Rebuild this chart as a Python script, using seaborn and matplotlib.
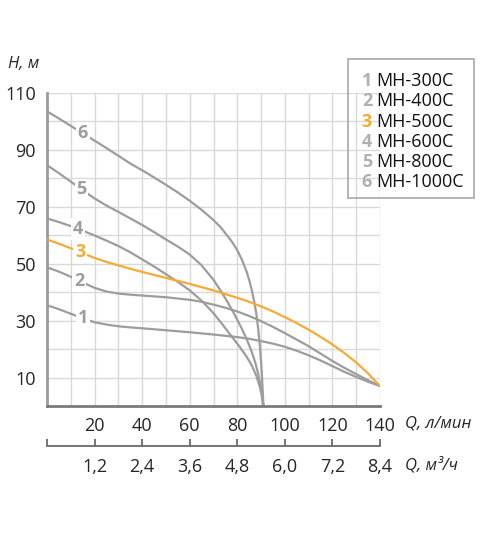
import numpy as np
import pandas as pd
import seaborn as sns
import matplotlib.pyplot as plt
from matplotlib.patches import Rectangle

# Характеристики насосов: расход Q (л/мин) и напор H (м)
q1 = [0, 5, 10, 15, 20, 25, 30, 35, 40, 50, 60, 70, 80, 85, 90, 95, 100, 105, 110, 115, 120, 125, 130, 135, 140]
h1 = [35.4, 34.0, 32.4, 30.8, 29.4, 28.6, 28.0, 27.6, 27.3, 26.6, 25.9, 25.1, 24.2, 23.6, 22.8, 21.9, 20.8,
      19.4, 17.8, 16.0, 14.0, 12.0, 10.2, 8.5, 7.0]

q2 = [0, 5, 10, 15, 20, 25, 30, 35, 40, 50, 60, 65, 70, 75, 80, 85, 90, 95, 100, 105, 110, 115, 120, 125, 130, 135, 140]
h2 = [48.7, 47.2, 45.4, 43.4, 41.5, 40.2, 39.5, 39.1, 38.8, 38.2, 37.3, 36.6, 35.6, 34.5, 33.2, 31.6, 29.8,
      27.8, 25.6, 23.3, 21.0, 18.4, 15.8, 13.4, 11.2, 9.0, 7.0]

q3 = [0, 5, 10, 15, 20, 25, 30, 35, 40, 50, 60, 70, 80, 85, 90, 95, 100, 105, 110, 115, 120, 125, 130, 135, 140]
h3 = [58.5, 57.0, 55.4, 53.7, 52.0, 50.6, 49.4, 48.2, 47.1, 45.0, 42.9, 40.6, 38.0, 36.6, 35.0, 33.2, 31.2,
      29.1, 26.8, 24.3, 21.6, 18.6, 15.3, 11.4, 7.0]

q4 = [0, 5, 10, 15, 20, 25, 30, 35, 40, 45, 50, 55, 60, 65, 70, 74, 78, 81, 84, 86, 88, 89.5, 90.5, 91]
h4 = [65.9, 64.6, 63.2, 61.6, 59.9, 58.1, 56.2, 54.0, 51.5, 49.0, 46.3, 43.6, 40.6, 37.0, 32.6, 28.4, 24.0,
      20.8, 17.2, 14.4, 10.6, 6.6, 3.0, 0.0]

q5 = [0, 5, 10, 15, 20, 25, 30, 35, 40, 45, 50, 55, 60, 65, 70, 73, 76, 79, 82, 84, 86, 87.5, 88.7, 89.7,
      90.4, 91]
h5 = [84.6, 81.8, 78.8, 75.8, 72.9, 70.4, 68.2, 65.9, 63.6, 61.1, 58.5, 56.0, 53.2, 49.4, 44.3, 40.5, 36.4,
      31.9, 27.0, 23.4, 19.2, 15.4, 11.6, 7.6, 4.0, 0.0]

q6 = [0, 5, 10, 15, 20, 25, 30, 35, 40, 45, 50, 55, 60, 65, 70, 73, 76, 78, 80, 82, 84, 85, 86, 87, 88,
      88.8, 89.5, 90, 90.4, 90.7, 91]
h6 = [103.5, 101.0, 98.4, 95.8, 93.2, 90.6, 87.9, 85.2, 82.8, 80.3, 77.7, 75.0, 72.1, 68.9, 65.3, 62.8, 59.6,
      57.4, 54.7, 51.3, 47.0, 44.3, 41.0, 37.2, 32.5, 27.0, 21.0, 15.5, 10.0, 5.0, 0.0]

nomera = ["1", "2", "3", "4", "5", "6"]
modeli = ["MH-300C", "MH-400C", "MH-500C", "MH-600C", "MH-800C", "MH-1000C"]

q_ticks = [20, 40, 60, 80, 100, 120, 140]
h_ticks = [10, 30, 50, 70, 90, 110]
m3_ticks = [0, 1.2, 2.4, 3.6, 4.8, 6.0, 7.2, 8.4]

gris = "#9d9d9d"
naranja = "#f5ab35"
colores = [gris, gris, naranja, gris, gris, gris]
pos_etiqueta = [15, 13.5, 14, 13, 14.5, 15]

sns.set_style("white")
plt.rcParams['font.family'] = ['Open Sans', 'DejaVu Sans']

fig = plt.figure(figsize=(5, 5.38), dpi=100)
ax = fig.add_axes([0.094, 0.2454, 0.666, 0.582])

curvas = [(q1, h1), (q2, h2), (q3, h3), (q4, h4), (q5, h5), (q6, h6)]
for i, (q, h) in enumerate(curvas):
    df = pd.DataFrame({"Q": q, "H": h})
    sns.lineplot(data=df, x="Q", y="H", ax=ax, color=colores[i], linewidth=1.6,
                 estimator=None, zorder=3 if i == 2 else 2)
    xq = pos_etiqueta[i]
    yh = np.interp(xq, q, h)
    ax.text(xq, yh, nomera[i], ha='center', va='center', fontsize=13, fontweight='bold',
            color=colores[i], zorder=5,
            bbox=dict(boxstyle='square,pad=0.1', fc='white', ec='none'))

ax.set_xlim(0, 140)
ax.set_ylim(0, 110)
ax.set_xticks(q_ticks)
ax.set_xticks(list(range(10, 140, 20)), minor=True)
ax.set_yticks(h_ticks)
ax.set_yticks(list(range(20, 110, 20)), minor=True)
ax.grid(True, which='both', color='#d9d9d9', linewidth=1)
ax.set_axisbelow(True)
ax.tick_params(which='both', length=0)
ax.tick_params(axis='x', pad=8, labelsize=13)
ax.tick_params(axis='y', pad=8, labelsize=13)
ax.set_xlabel("")
ax.set_ylabel("")
for lado in ['top', 'right']:
    ax.spines[lado].set_visible(False)
ax.spines['left'].set_color('#9a9a9a')
ax.spines['left'].set_linewidth(2)
ax.spines['bottom'].set_color('#7a7a7a')
ax.spines['bottom'].set_linewidth(2)

# segunda escala en m3/h
sec = ax.secondary_xaxis(-0.127, functions=(lambda x: x * 0.06, lambda x: x / 0.06))
sec.set_xticks(m3_ticks)
sec.set_xticklabels([""] + [f"{v:.1f}".replace(".", ",") for v in m3_ticks[1:]])
sec.tick_params(direction='in', length=5, width=1.3, color='#6a6a6a', pad=9, labelsize=13)
sec.spines['bottom'].set_color('#6a6a6a')
sec.spines['bottom'].set_linewidth(1.3)

fig.text(8 / 500, 1 - 64 / 538, "H, м", ha='left', va='center', fontsize=12, style='italic')
fig.text(405 / 500, 1 - 423 / 538, "Q, л/мин", ha='left', va='center', fontsize=12, style='italic')
fig.text(405 / 500, 1 - 465 / 538, "Q, м³/ч", ha='left', va='center', fontsize=12, style='italic')

# leyenda
fig.patches.append(Rectangle((348 / 500, 1 - 198 / 538), 126 / 500, 139 / 538,
                             transform=fig.transFigure, fill=False, ec='#a8a8a8', lw=1.2))
ys = [81, 101.5, 122, 142, 162, 182]
for i in range(6):
    fig.text(367 / 500, 1 - ys[i] / 538, nomera[i], ha='center', va='center', fontsize=13,
             fontweight='bold', color='#b0b0b0' if i != 2 else naranja)
    fig.text(376 / 500, 1 - ys[i] / 538, modeli[i], ha='left', va='center', fontsize=13, color='#111111')

fig.savefig("out.png", dpi=100)
